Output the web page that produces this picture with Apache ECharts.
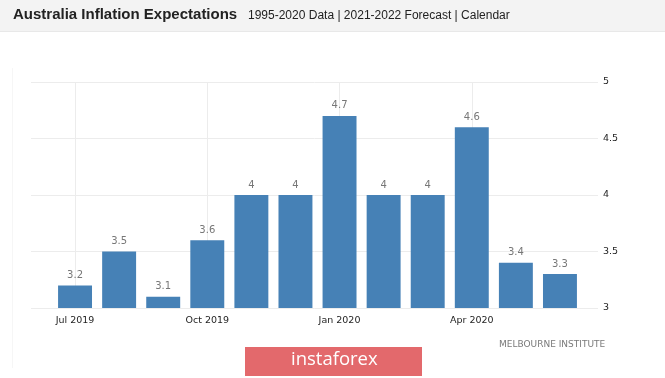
<!DOCTYPE html>
<html>
<head>
<meta charset="utf-8">
<script src="https://cdn.jsdelivr.net/npm/echarts@6/dist/echarts.min.js"></script>
<style>
html,body{margin:0;padding:0;background:#fff;}
#main{width:665px;height:378px;}
</style>
</head>
<body>
<div id="main"></div>
<script>
const categories = ['Jul 2019','Aug 2019','Sep 2019','Oct 2019','Nov 2019','Dec 2019','Jan 2020','Feb 2020','Mar 2020','Apr 2020','May 2020','Jun 2020'];
const values = [3.2, 3.5, 3.1, 3.6, 4, 4, 4.7, 4, 4, 4.6, 3.4, 3.3];
const gridMonths = ['Jul 2019','Oct 2019','Jan 2020','Apr 2020'];
const yMin = 3, yMax = 5, yStep = 0.5;
const titleText = 'Australia Inflation Expectations';
const subText = '1995-2020 Data | 2021-2022 Forecast | Calendar';
const sourceText = 'MELBOURNE INSTITUTE';
const watermarkText = 'instaforex';

const chart = echarts.init(document.getElementById('main'), null, {renderer: 'canvas'});
const option = {
  animation: false,
  backgroundColor: '#ffffff',
  graphic: [
    {type: 'rect', left: 0, top: 0, z: 0, shape: {width: 665, height: 31}, style: {fill: '#f3f3f3'}},
    {type: 'rect', left: 0, top: 31, z: 0, shape: {width: 665, height: 1}, style: {fill: '#e8e8e8'}},
    {type: 'rect', left: 12, top: 68, z: 0, shape: {width: 1, height: 300}, style: {fill: '#f6f6f6'}},
    {type: 'text', left: 499, top: 340, z: 10, style: {text: sourceText, fontFamily: 'DejaVu Sans', fontSize: 9, fill: '#7a7a7a'}},
    {type: 'rect', left: 245, top: 347, z: 10, shape: {width: 177, height: 29}, style: {fill: '#e3696c'}},
    {type: 'text', left: 291, top: 350, z: 11, style: {text: watermarkText, fontFamily: 'Open Sans', fontSize: 18.5, fill: '#ffffff'}}
  ],
  title: [
    {text: titleText, left: 13, top: 7, padding: 0, textStyle: {fontFamily: 'Liberation Sans', fontWeight: 'bold', fontSize: 15, color: '#222'}},
    {text: subText, left: 248, top: 10, padding: 0, textStyle: {fontFamily: 'Liberation Sans', fontWeight: 'normal', fontSize: 12, color: '#222'}}
  ],
  grid: [
    {left: 53, right: 83, top: 82, bottom: 70},
    {left: 31, right: 67, top: 82, bottom: 70}
  ],
  xAxis: [
    {
      type: 'category', gridIndex: 0, data: categories,
      axisLine: {show: false}, axisTick: {show: false}, splitLine: {show: false},
      axisLabel: {
        interval: function (i) { return i % 3 === 0; },
        margin: 8, color: '#1e1e1e', fontFamily: 'DejaVu Sans', fontSize: 9.5
      }
    },
    {type: 'value', gridIndex: 1, show: false, min: 0, max: 1}
  ],
  yAxis: [
    {type: 'value', gridIndex: 0, min: yMin, max: yMax, interval: yStep, show: false},
    {
      type: 'value', gridIndex: 1, position: 'right', min: yMin, max: yMax, interval: yStep,
      axisLine: {show: false}, axisTick: {show: false},
      splitLine: {show: true, lineStyle: {color: '#ececec', width: 1}},
      axisLabel: {margin: 5, color: '#1e1e1e', fontFamily: 'DejaVu Sans', fontSize: 9.5}
    }
  ],
  series: [
    {
      type: 'bar', xAxisIndex: 0, yAxisIndex: 0, data: values,
      barCategoryGap: '23%',
      itemStyle: {color: '#4681b6'},
      z: 3,
      label: {show: true, position: 'top', distance: 5, color: '#777', fontFamily: 'DejaVu Sans', fontSize: 10},
      markLine: {
        z: 1, silent: true, symbol: 'none', label: {show: false},
        lineStyle: {color: '#ececec', width: 1, type: 'solid'},
        data: gridMonths.map(function (m) { return {xAxis: m}; })
      }
    }
  ]
};
chart.setOption(option);
</script>
</body>
</html>
